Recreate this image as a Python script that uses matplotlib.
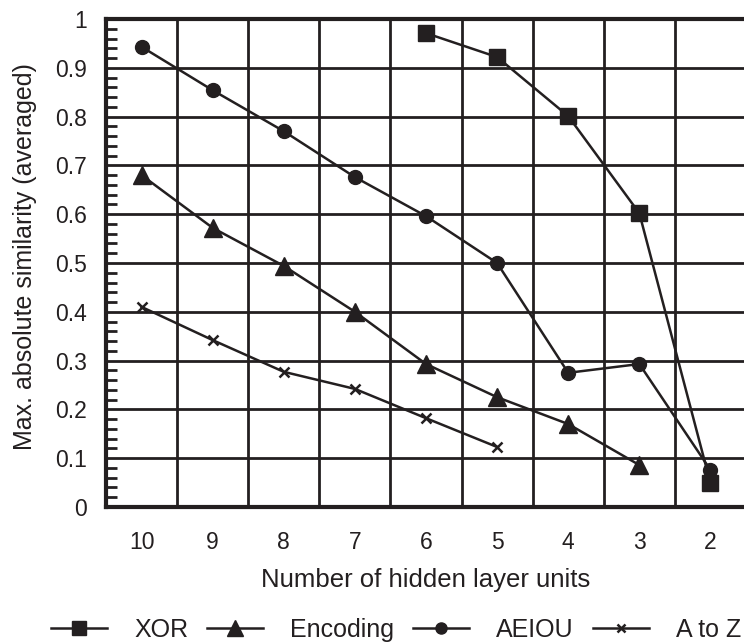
import matplotlib
matplotlib.use("Agg")
import matplotlib.pyplot as plt
from matplotlib.ticker import MultipleLocator
from matplotlib.lines import Line2D
import numpy as np

plt.rcParams['font.family'] = ['Liberation Sans', 'DejaVu Sans']

categories = ["10", "9", "8", "7", "6", "5", "4", "3", "2"]
y_ticks = [0, 0.1, 0.2, 0.3, 0.4, 0.5, 0.6, 0.7, 0.8, 0.9, 1.0]
y_tick_labels = ["0", "0.1", "0.2", "0.3", "0.4", "0.5", "0.6", "0.7", "0.8", "0.9", "1"]
xor_units = ["6", "5", "4", "3", "2"]
xor_vals = [0.971, 0.922, 0.801, 0.602, 0.049]
enc_units = ["10", "9", "8", "7", "6", "5", "4", "3"]
enc_vals = [0.68, 0.572, 0.494, 0.40, 0.293, 0.225, 0.17, 0.086]
aeiou_units = ["10", "9", "8", "7", "6", "5", "4", "3", "2"]
aeiou_vals = [0.943, 0.854, 0.770, 0.676, 0.596, 0.50, 0.275, 0.293, 0.076]
atoz_units = ["10", "9", "8", "7", "6", "5"]
atoz_vals = [0.41, 0.342, 0.277, 0.242, 0.182, 0.123]

pos = {c: i for i, c in enumerate(categories)}
col = "#231f20"

fig = plt.figure(figsize=(7.44, 6.43), dpi=100)
ax = fig.add_axes([106/744, 1-507/643, 640/744, 488/643])

def xs(units):
    return [pos[u] for u in units]

ax.plot(xs(xor_units), xor_vals, color=col, lw=1.8, marker='s', ms=12, zorder=3)
ax.plot(xs(enc_units), enc_vals, color=col, lw=1.8, marker='^', ms=13, zorder=3)
ax.plot(xs(aeiou_units), aeiou_vals, color=col, lw=1.8, marker='o', ms=10, zorder=3)
ax.plot(xs(atoz_units), atoz_vals, color=col, lw=1.8, marker='x', ms=7, mew=1.8, zorder=3)

ax.set_xlim(-0.5, len(categories) - 0.5)
ax.set_ylim(0, 1)
ax.set_xticks(range(len(categories)))
ax.set_xticklabels(categories)
ax.set_yticks(y_ticks)
ax.set_yticklabels(y_tick_labels)
ax.yaxis.set_minor_locator(MultipleLocator(0.02))

for x in np.arange(0.5, len(categories) - 0.5, 1.0):
    ax.axvline(x, color=col, lw=2, zorder=1)
for y in y_ticks[1:-1]:
    ax.axhline(y, color=col, lw=2, zorder=1)

ax.tick_params(axis='x', which='major', length=0, pad=17, labelsize=16.5, colors=col)
ax.tick_params(axis='y', which='major', length=0, pad=14, labelsize=16.5, colors=col)
ax.tick_params(axis='y', which='minor', direction='in', length=8, width=2, color=col)
for s in ax.spines.values():
    s.set_linewidth(3)
    s.set_color(col)

ax.set_xlabel("Number of hidden layer units", fontsize=18.5, color=col, va='center')
ax.xaxis.set_label_coords(0.5, (507 - 580) / 488)
ax.set_ylabel("Max. absolute similarity (averaged)", fontsize=18, color=col, va='center')
ax.yaxis.set_label_coords((25 - 106) / 640, (507 - 257) / 488)

handles = [
    Line2D([], [], color=col, lw=1.8, marker='s', ms=10),
    Line2D([], [], color=col, lw=1.8, marker='^', ms=11),
    Line2D([], [], color=col, lw=1.8, marker='o', ms=8),
    Line2D([], [], color=col, lw=1.8, marker='x', ms=6, mew=1.8),
]
labels = ["XOR", "Encoding", "AEIOU", "A to Z"]
leg = fig.legend(handles, labels, loc='center', bbox_to_anchor=(396/744, 1-630/643), ncol=4,
                 frameon=False, fontsize=18, handlelength=2.24, columnspacing=0.76,
                 handletextpad=1.08, borderpad=0)
for t in leg.get_texts():
    t.set_color(col)

fig.savefig("out.png", dpi=100)
